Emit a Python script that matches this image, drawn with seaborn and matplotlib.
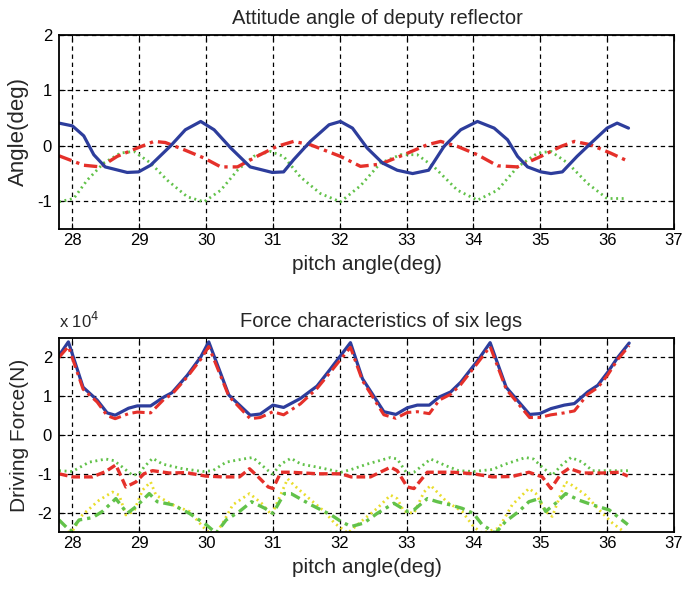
import matplotlib
matplotlib.use("Agg")
import matplotlib.pyplot as plt
import seaborn as sns

# ---- attitude angle (deg) ----
blue_top_x = [27.8, 28.0, 28.17, 28.32, 28.49, 28.82, 28.99, 29.17, 29.47, 29.69, 29.92,
              30.12, 30.37, 30.66, 30.99, 31.16, 31.31, 31.56, 31.84, 32.01, 32.19, 32.41,
              32.64, 32.86, 33.09, 33.33, 33.56, 33.81, 34.06, 34.31, 34.51, 34.66, 34.81,
              35.01, 35.16, 35.33, 35.55, 35.75, 36.0, 36.15, 36.32]
blue_top_y = [0.41, 0.36, 0.18, -0.16, -0.38, -0.48, -0.47, -0.35, 0.0, 0.29, 0.44,
              0.29, -0.04, -0.38, -0.48, -0.47, -0.25, 0.08, 0.38, 0.44, 0.32, -0.04,
              -0.31, -0.44, -0.5, -0.44, -0.01, 0.29, 0.44, 0.32, 0.11, -0.19, -0.38,
              -0.47, -0.5, -0.47, -0.19, 0.04, 0.32, 0.41, 0.32]

red_top_x = [27.8, 28.17, 28.42, 28.67, 28.97, 29.22, 29.39, 29.67, 29.97, 30.22, 30.47,
             30.76, 31.06, 31.31, 31.56, 32.01, 32.31, 32.61, 32.96, 33.31, 33.51, 33.76,
             34.06, 34.36, 34.66, 35.01, 35.31, 35.51, 35.75, 36.05, 36.3]
red_top_y = [-0.18, -0.35, -0.38, -0.19, -0.04, 0.08, 0.06, -0.07, -0.22, -0.38, -0.38,
             -0.19, -0.01, 0.08, 0.02, -0.19, -0.37, -0.33, -0.16, 0.02, 0.08, -0.01,
             -0.16, -0.36, -0.38, -0.19, -0.01, 0.08, 0.02, -0.13, -0.27]

green_top_x = [27.8, 28.02, 28.22, 28.47, 28.72, 28.92, 29.17, 29.42, 29.72, 29.97, 30.22,
               30.47, 30.71, 30.96, 31.16, 31.41, 31.71, 32.01, 32.31, 32.61, 32.91, 33.16,
               33.41, 33.76, 34.06, 34.36, 34.66, 34.96, 35.16, 35.41, 35.71, 36.0, 36.3]
green_top_y = [-1.01, -0.95, -0.62, -0.31, -0.13, -0.1, -0.31, -0.62, -0.92, -1.01, -0.8,
               -0.44, -0.19, -0.1, -0.19, -0.56, -0.86, -1.01, -0.72, -0.31, -0.16, -0.16,
               -0.38, -0.8, -0.98, -0.8, -0.38, -0.13, -0.1, -0.31, -0.68, -0.95, -0.95]

# ---- driving force (x 10^4 N) ----
upper_x = [27.8, 27.94, 28.16, 28.37, 28.52, 28.64, 28.84, 28.97, 29.17, 29.37, 29.49,
           29.72, 29.92, 30.04, 30.34, 30.66, 30.81, 31.0, 31.16, 31.41, 31.66, 31.86,
           32.16, 32.34, 32.66, 32.84, 33.01, 33.16, 33.34, 33.49, 33.66, 33.81, 34.06,
           34.25, 34.49, 34.84, 34.99, 35.16, 35.36, 35.51, 35.71, 35.86, 36.01, 36.16, 36.33]
leg1 = [2.05, 2.4, 1.23, 0.9, 0.57, 0.51, 0.69, 0.75, 0.75, 0.98, 1.09,
        1.54, 2.01, 2.4, 1.03, 0.51, 0.54, 0.77, 0.71, 0.94, 1.26, 1.7,
        2.38, 1.45, 0.6, 0.53, 0.7, 0.77, 0.77, 0.98, 1.11, 1.36, 1.91,
        2.38, 1.23, 0.53, 0.55, 0.68, 0.77, 0.81, 1.11, 1.28, 1.62, 2.0, 2.37]
leg2 = [2.0, 2.28, 1.18, 0.85, 0.5, 0.42, 0.55, 0.59, 0.57, 0.92, 1.05,
        1.5, 1.95, 2.28, 1.0, 0.42, 0.45, 0.6, 0.52, 0.8, 1.2, 1.62,
        2.26, 1.4, 0.52, 0.43, 0.58, 0.6, 0.55, 0.9, 1.05, 1.3, 1.85,
        2.28, 1.18, 0.45, 0.45, 0.52, 0.57, 0.62, 1.05, 1.22, 1.55, 1.95, 2.3]

leg3_x = [27.8, 28.0, 28.3, 28.5, 28.65, 28.8, 28.95, 29.07, 29.2, 29.45, 29.7, 30.0,
          30.25, 30.5, 30.65, 30.78, 30.93, 31.0, 31.12, 31.27, 31.67, 32.02, 32.17,
          32.46, 32.76, 32.86, 33.01, 33.11, 33.31, 33.56, 33.69, 34.0, 34.28, 34.58,
          34.83, 35.03, 35.16, 35.31, 35.43, 35.63, 35.93, 36.18, 36.31]
leg3 = [-1.0, -1.08, -1.08, -0.94, -0.77, -1.34, -1.21, -1.0, -0.92, -0.98, -0.97, -1.06,
        -1.08, -1.08, -0.87, -1.08, -1.34, -1.38, -0.96, -0.96, -1.0, -1.0, -1.08,
        -1.08, -0.83, -0.92, -1.34, -1.38, -0.96, -0.96, -0.96, -1.0, -1.08, -1.07,
        -0.96, -1.08, -1.38, -1.0, -0.86, -0.98, -0.98, -0.96, -1.06]

leg4_x = [27.8, 28.0, 28.25, 28.5, 28.62, 28.75, 28.9, 29.0, 29.07, 29.2, 29.35, 29.65,
          29.95, 30.1, 30.3, 30.55, 30.7, 30.93, 31.0, 31.12, 31.27, 31.42, 31.67, 32.02,
          32.17, 32.41, 32.76, 32.86, 33.01, 33.11, 33.36, 33.6, 33.78, 34.0, 34.28, 34.48,
          34.78, 34.9, 35.03, 35.18, 35.31, 35.46, 35.63, 35.78, 36.08, 36.33]
leg4 = [-0.92, -0.94, -0.7, -0.62, -0.66, -0.83, -1.04, -1.0, -0.83, -0.6, -0.75, -0.87,
        -0.94, -0.92, -0.7, -0.62, -0.58, -0.92, -1.0, -0.75, -0.6, -0.75, -0.83, -0.96,
        -0.89, -0.75, -0.58, -0.62, -1.0, -0.96, -0.62, -0.8, -0.92, -0.94, -0.89, -0.75,
        -0.58, -0.62, -0.83, -1.04, -0.79, -0.58, -0.7, -0.92, -0.92, -0.92]

leg5_x = [27.85, 28.0, 28.15, 28.4, 28.6, 28.7, 28.8, 28.92, 29.05, 29.17, 29.25, 29.5,
          29.75, 29.95, 30.05, 30.15, 30.25, 30.4, 30.65, 30.83, 30.98, 31.07, 31.22, 31.32,
          31.57, 31.77, 31.92, 32.12, 32.32, 32.56, 32.76, 32.86, 32.96, 33.11, 33.26, 33.36,
          33.6, 33.83, 34.0, 34.13, 34.38, 34.58, 34.83, 34.93, 35.08, 35.18, 35.28, 35.38,
          35.48, 35.68, 35.88, 36.08, 36.28]
leg5 = [-2.53, -2.48, -2.06, -1.68, -1.47, -1.55, -2.06, -1.97, -1.42, -1.21, -1.55, -1.8,
        -1.97, -2.36, -2.53, -2.53, -2.27, -1.8, -1.51, -1.76, -2.06, -1.72, -1.13, -1.3,
        -1.68, -1.97, -2.27, -2.53, -2.23, -1.89, -1.55, -1.64, -1.97, -2.02, -1.47, -1.3,
        -1.72, -1.97, -2.36, -2.53, -2.4, -1.8, -1.38, -1.5, -1.97, -2.1, -1.64, -1.21,
        -1.3, -1.55, -1.93, -2.27, -2.53]

leg6_x = [27.8, 27.97, 28.1, 28.3, 28.45, 28.65, 28.82, 28.95, 29.15, 29.27, 29.5, 29.75,
          30.0, 30.15, 30.3, 30.5, 30.68, 30.88, 31.0, 31.17, 31.27, 31.57, 31.87, 32.02,
          32.17, 32.36, 32.56, 32.81, 33.01, 33.11, 33.31, 33.46, 33.65, 33.83, 34.0, 34.13,
          34.33, 34.48, 34.68, 34.83, 34.98, 35.08, 35.23, 35.38, 35.58, 35.78, 36.03, 36.31]
leg6 = [-2.19, -2.48, -2.19, -2.13, -1.97, -1.64, -2.02, -1.85, -1.51, -1.72, -1.8, -2.02,
        -2.31, -2.53, -2.19, -1.97, -1.72, -1.89, -2.02, -1.51, -1.51, -1.8, -2.06, -2.23,
        -2.36, -2.27, -2.02, -1.76, -1.97, -1.93, -1.64, -1.72, -1.8, -1.89, -2.02, -2.31,
        -2.53, -2.23, -1.97, -1.72, -1.64, -1.97, -1.76, -1.51, -1.68, -1.8, -1.93, -2.31]

angle_ticks = [-1, 0, 1, 2]
force_ticks = [-2, -1, 0, 1, 2]
pitch_ticks = [28, 29, 30, 31, 32, 33, 34, 35, 36, 37]

BLUE = "#2d3d9c"
RED = "#e5302a"
GREEN = "#62c24a"
YELLOW = "#e9dd2c"

sns.set_style("white")
plt.rcParams["font.family"] = ["Liberation Sans", "DejaVu Sans"]
plt.rcParams["axes.unicode_minus"] = False

fig = plt.figure(figsize=(6.84, 5.96), dpi=100)
ax1 = fig.add_axes([0.0863, 0.6158, 0.899, 0.3255])
ax2 = fig.add_axes([0.0863, 0.1074, 0.899, 0.3255])

dotted = (0, (0.7, 1.3))

sns.lineplot(x=green_top_x, y=green_top_y, ax=ax1, color=GREEN, linewidth=2.0,
             linestyle=dotted)
sns.lineplot(x=red_top_x, y=red_top_y, ax=ax1, color=RED, linewidth=2.4,
             linestyle=(0, (4, 1.5, 1, 1.5)))
sns.lineplot(x=blue_top_x, y=blue_top_y, ax=ax1, color=BLUE, linewidth=2.3)

sns.lineplot(x=upper_x, y=leg1, ax=ax2, color=BLUE, linewidth=2.3)
sns.lineplot(x=upper_x, y=leg2, ax=ax2, color=RED, linewidth=2.2,
             linestyle=(0, (4, 1.5, 1, 1.5)))
sns.lineplot(x=leg4_x, y=leg4, ax=ax2, color=GREEN, linewidth=2.0,
             linestyle=dotted)
sns.lineplot(x=leg3_x, y=leg3, ax=ax2, color=RED, linewidth=2.4,
             linestyle=(0, (2.6, 1.2)))
sns.lineplot(x=leg5_x, y=leg5, ax=ax2, color=YELLOW, linewidth=2.0,
             linestyle=dotted)
sns.lineplot(x=leg6_x, y=leg6, ax=ax2, color=GREEN, linewidth=2.4,
             linestyle=(0, (3, 1.5, 1, 1.5)))

for ax in (ax1, ax2):
    ax.set_xlim(27.8, 37)
    ax.set_xticks(pitch_ticks)
    ax.grid(True, color="black", linestyle=(0, (3.5, 3)), linewidth=0.9)
    ax.tick_params(direction="in", length=4, labelsize=12, top=True, right=True,
                   bottom=True, left=True, colors="black")
    ax.tick_params(axis="x", pad=3)
    ax.tick_params(axis="y", pad=5)
    for s in ax.spines.values():
        s.set_color("black")
        s.set_linewidth(1.3)
    ax.set_xlabel("pitch angle(deg)", fontsize=15, labelpad=5)

ax1.set_ylim(-1.5, 2)
ax1.set_yticks(angle_ticks)
ax1.set_ylabel("Angle(deg)", fontsize=16, labelpad=6)
ax1.set_title("Attitude angle of deputy reflector", fontsize=14.5, pad=8, x=0.517)

ax2.set_ylim(-2.5, 2.5)
ax2.set_yticks(force_ticks)
ax2.set_ylabel("Driving Force(N)", fontsize=15, labelpad=6)
ax2.set_title("Force characteristics of six legs", fontsize=14.5, pad=8, x=0.524)
ax2.text(0.0, 1.035, "x 10$^{4}$", transform=ax2.transAxes, fontsize=12,
         ha="left", va="bottom")

fig.savefig("out.png", dpi=100)
